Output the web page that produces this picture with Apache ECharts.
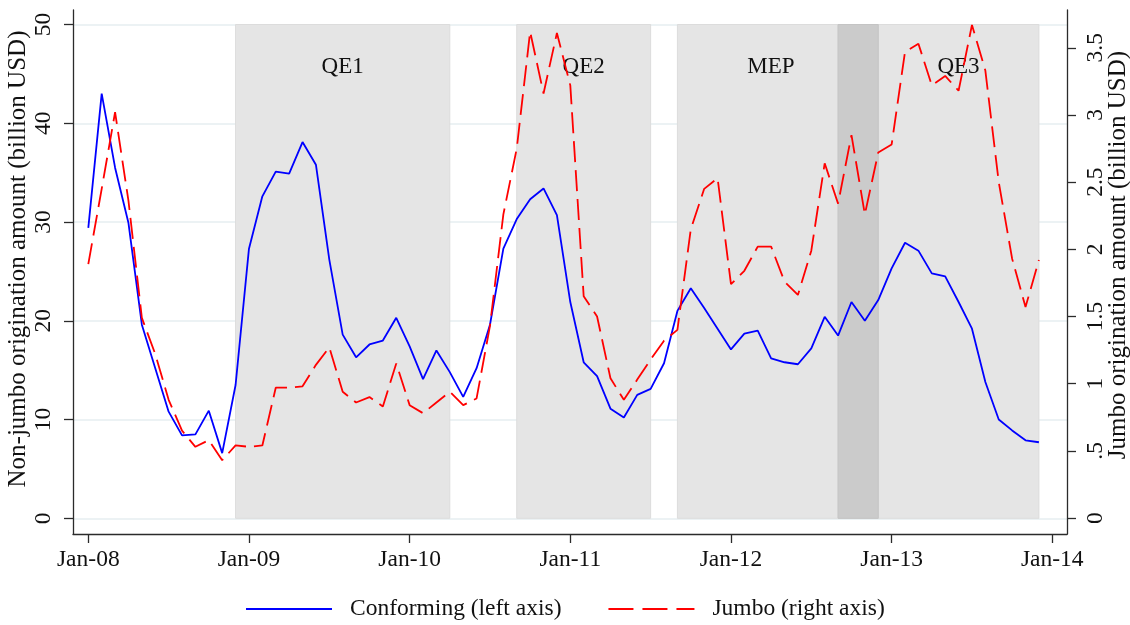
<!DOCTYPE html>
<html>
<head>
<meta charset="utf-8">
<script src="https://cdn.jsdelivr.net/npm/echarts@6/dist/echarts.min.js"></script>
<style>
  html, body { margin: 0; padding: 0; background: #ffffff; }
  #chart { width: 1130px; height: 625px; }
</style>
</head>
<body>
<div id="chart"></div>
<script>
// Monthly origination amounts, Jan-2008 .. Dec-2013 (index 0 = Jan-08)
const tickMonths = [0, 12, 24, 36, 48, 60, 72];
const tickLabels = ['Jan-08', 'Jan-09', 'Jan-10', 'Jan-11', 'Jan-12', 'Jan-13', 'Jan-14'];
const leftTicks = [0, 10, 20, 30, 40, 50];
const rightTicks = [0, 0.5, 1, 1.5, 2, 2.5, 3, 3.5];
const rightTickLabels = ['0', '.5', '1', '1.5', '2', '2.5', '3', '3.5'];

// Conforming (non-jumbo) originations, billion USD
const conforming = [
  29.4, 43.0, 35.5, 29.9, 19.6, 15.2, 10.8, 8.4, 8.5, 10.9, 6.6, 13.5,
  27.3, 32.6, 35.1, 34.9, 38.1, 35.8, 26.2, 18.6, 16.3, 17.6, 18.0, 20.3,
  17.4, 14.1, 17.0, 14.8, 12.3, 15.2, 19.6, 27.3, 30.3, 32.3, 33.4, 30.7,
  21.9, 15.8, 14.4, 11.1, 10.2, 12.5, 13.1, 15.7, 21.0, 23.3, 21.3, 19.2,
  17.1, 18.7, 19.0, 16.2, 15.8, 15.6, 17.2, 20.4, 18.5, 21.9, 20.0, 22.1,
  25.3, 27.9, 27.1, 24.8, 24.5, 21.9, 19.2, 13.8, 10.0, 8.9, 7.9, 7.7
];

// Jumbo originations, billion USD
const jumbo = [
  1.89, 2.45, 3.02, 2.36, 1.49, 1.22, 0.88, 0.65, 0.53, 0.58, 0.43, 0.54,
  0.53, 0.54, 0.97, 0.97, 0.98, 1.14, 1.27, 0.94, 0.86, 0.90, 0.83, 1.15,
  0.84, 0.78, 0.86, 0.94, 0.84, 0.89, 1.43, 2.26, 2.75, 3.62, 3.16, 3.61,
  3.22, 1.65, 1.50, 1.04, 0.88, 1.03, 1.18, 1.32, 1.40, 2.15, 2.45, 2.53,
  1.74, 1.84, 2.02, 2.02, 1.76, 1.66, 1.99, 2.64, 2.34, 2.85, 2.26, 2.72,
  2.78, 3.47, 3.53, 3.22, 3.29, 3.18, 3.67, 3.33, 2.50, 1.93, 1.57, 1.92
];

// Fed programs (month index of start / end)
const programNames = ['QE1', 'QE2', 'MEP', 'QE3'];
const programStart = [11, 32, 44, 56];
const programEnd = [27, 42, 59, 71];

const leftTitle = 'Non-jumbo origination amount (billion USD)';
const rightTitle = 'Jumbo origination amount (billion USD)';

const FONT = "'Liberation Serif', 'Times New Roman', Times, serif";
const TEXT = '#111111';
const AXIS = '#2b2b2b';
const TICK_FS = 23.5;
const TITLE_FS = 25;

const labelFor = {};
tickMonths.forEach((m, i) => { labelFor[m] = tickLabels[i]; });
const rightLabelFor = {};
rightTicks.forEach((v, i) => { rightLabelFor[v] = rightTickLabels[i]; });

// horizontal label nudges for program names
const labelShift = { QE1: 0, QE2: 0, MEP: -7, QE3: 20 };
const bandLow = leftTicks[0];
const bandHigh = leftTicks[leftTicks.length - 1];

const bands = programNames.map((n, i) => [
  { name: n, xAxis: programStart[i], yAxis: bandLow, label: { offset: [labelShift[n], 0] } },
  { xAxis: programEnd[i], yAxis: bandHigh }
]);
// darker shading where two programs run at the same time
for (let i = 0; i < programNames.length; i++) {
  for (let j = i + 1; j < programNames.length; j++) {
    const lo = Math.max(programStart[i], programStart[j]);
    const hi = Math.min(programEnd[i], programEnd[j]);
    if (lo < hi) {
      bands.push([
        { name: '', xAxis: lo, yAxis: bandLow, itemStyle: { color: '#cbcbcb', borderColor: '#c4c4c4' }, label: { show: false } },
        { xAxis: hi, yAxis: bandHigh }
      ]);
    }
  }
}

const chart = echarts.init(document.getElementById('chart'), null, { renderer: 'canvas' });

// vertical axis titles, reading bottom to top
function axisTitle(text, x, y) {
  return {
    type: 'text',
    x: x,
    y: y,
    rotation: Math.PI / 2,
    silent: true,
    style: {
      text: text,
      fontFamily: FONT,
      fontSize: TITLE_FS,
      fill: TEXT,
      align: 'center',
      verticalAlign: 'middle'
    }
  };
}

chart.setOption({
  animation: false,
  backgroundColor: '#ffffff',
  grid: { left: 73, right: 63, top: 10, bottom: 91, outerBoundsMode: 'none', containLabel: false },
  graphic: [
    axisTitle(leftTitle, 18.5, 259),
    axisTitle(rightTitle, 1118.5, 255)
  ],
  legend: {
    left: 245,
    top: 597,
    padding: 0,
    itemWidth: 86,
    itemHeight: 14,
    itemGap: 46,
    itemStyle: { opacity: 0 },
    textStyle: { fontFamily: FONT, fontSize: TICK_FS, color: TEXT, padding: [0, 0, 0, 13] },
    data: [
      { name: 'Conforming (left axis)' },
      { name: 'Jumbo (right axis)', lineStyle: { type: [25, 9] } }
    ]
  },
  xAxis: {
    type: 'value',
    min: -1.143,
    max: 73.098,
    axisLine: { show: true, onZero: false, lineStyle: { color: AXIS, width: 1.3 } },
    axisTick: { show: true, customValues: tickMonths, length: 9, lineStyle: { color: AXIS, width: 1.3 } },
    axisLabel: {
      customValues: tickMonths,
      formatter: v => labelFor[v] || '',
      fontFamily: FONT, fontSize: TICK_FS, color: TEXT, margin: 14
    },
    splitLine: { show: false }
  },
  yAxis: [
    {
      type: 'value',
      position: 'left',
      min: -1.589,
      max: 51.468,
      axisLine: { show: true, onZero: false, lineStyle: { color: AXIS, width: 1.3 } },
      axisTick: { show: true, customValues: leftTicks, length: 9, lineStyle: { color: AXIS, width: 1.3 } },
      axisLabel: {
        customValues: leftTicks,
        rotate: 90,
        fontFamily: FONT, fontSize: TICK_FS, color: TEXT, margin: 17
      },
      splitLine: { show: true, lineStyle: { color: '#e6eef1', width: 1.5 } }
    },
    {
      type: 'value',
      position: 'right',
      min: -0.119,
      max: 3.781,
      axisLine: { show: true, onZero: false, lineStyle: { color: AXIS, width: 1.3 } },
      axisTick: { show: true, customValues: rightTicks, length: 9, lineStyle: { color: AXIS, width: 1.3 } },
      axisLabel: {
        customValues: rightTicks,
        rotate: 90,
        formatter: v => (rightLabelFor[v] !== undefined ? rightLabelFor[v] : ''),
        fontFamily: FONT, fontSize: TICK_FS, color: TEXT, margin: 17
      },
      splitLine: { show: false }
    }
  ],
  series: [
    {
      name: 'Conforming (left axis)',
      type: 'line',
      yAxisIndex: 0,
      symbol: 'none',
      z: 3,
      lineStyle: { color: '#0000ff', width: 1.8 },
      itemStyle: { color: '#0000ff' },
      data: conforming.map((v, i) => [i, v]),
      markArea: {
        silent: true,
        z: 1,
        itemStyle: { color: '#e5e5e5', borderColor: '#dcdcdc', borderWidth: 1 },
        label: {
          show: true,
          position: 'insideTop',
          distance: 31,
          fontFamily: FONT,
          fontSize: 23,
          color: TEXT
        },
        data: bands
      }
    },
    {
      name: 'Jumbo (right axis)',
      type: 'line',
      yAxisIndex: 1,
      symbol: 'none',
      z: 4,
      lineStyle: { color: '#ff0000', width: 1.8, type: [21, 8] },
      itemStyle: { color: '#ff0000' },
      data: jumbo.map((v, i) => [i, v])
    }
  ]
});
</script>
</body>
</html>
